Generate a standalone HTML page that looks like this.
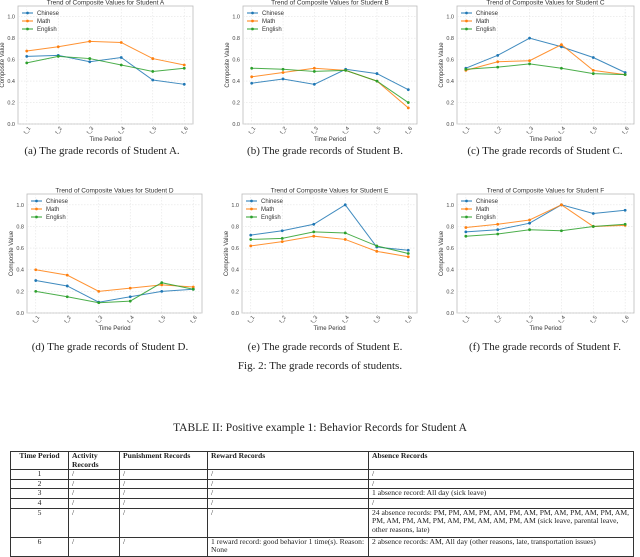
<!DOCTYPE html>
<html><head><meta charset="utf-8">
<style>
body{margin:0;width:640px;height:556px;background:#fff;position:relative;overflow:hidden;font-family:"Liberation Sans",sans-serif}
.cap{position:absolute;font-family:"Liberation Serif",serif;font-size:11px;color:#222;white-space:nowrap;transform:translateX(-50%)}
table{position:absolute;left:10px;top:451px;width:624px;border-collapse:collapse;font-family:"Liberation Serif",serif;font-size:7.6px;color:#222}
td,th{border:1px solid #333;padding:0 3px;vertical-align:top;line-height:8.6px;text-align:left}
th{font-weight:bold}
td.c{text-align:center}
</style></head><body>
<svg id="charts" width="640" height="360" style="position:absolute;left:0;top:0"></svg>
<div class="cap" style="left:102px;top:145px">(a) The grade records of Student A.</div>
<div class="cap" style="left:325px;top:145px">(b) The grade records of Student B.</div>
<div class="cap" style="left:545px;top:145px">(c) The grade records of Student C.</div>
<div class="cap" style="left:110px;top:341px">(d) The grade records of Student D.</div>
<div class="cap" style="left:325px;top:341px">(e) The grade records of Student E.</div>
<div class="cap" style="left:545px;top:341px">(f) The grade records of Student F.</div>
<div class="cap" style="left:320px;top:360px">Fig. 2: The grade records of students.</div>
<div class="cap" style="left:320px;top:422px;font-size:11.5px">TABLE II: Positive example 1: Behavior Records for Student A</div>
<table>
<tr style="height:18px"><th style="width:51px;text-align:center">Time Period</th><th style="width:44px">Activity Records</th><th style="width:81px">Punishment Records</th><th style="width:154px">Reward Records</th><th>Absence Records</th></tr>
<tr style="height:9px"><td class="c">1</td><td>/</td><td>/</td><td>/</td><td>/</td></tr>
<tr style="height:9px"><td class="c">2</td><td>/</td><td>/</td><td>/</td><td>/</td></tr>
<tr style="height:9px"><td class="c">3</td><td>/</td><td>/</td><td>/</td><td>1 absence record: All day (sick leave)</td></tr>
<tr style="height:9px"><td class="c">4</td><td>/</td><td>/</td><td>/</td><td>/</td></tr>
<tr style="height:29px"><td class="c">5</td><td>/</td><td>/</td><td>/</td><td>24 absence records: PM, PM, AM, PM, AM, PM, AM, PM, AM, PM, AM, PM, AM, PM, AM, PM, AM, PM, AM, PM, AM, AM, PM, AM (sick leave, parental leave, other reasons, late)</td></tr>
<tr style="height:19px"><td class="c">6</td><td>/</td><td>/</td><td>1 reward record: good behavior 1 time(s). Reason: None</td><td>2 absence records: AM, All day (other reasons, late, transportation issues)</td></tr>
</table>
<script>
const periods=["t_1","t_2","t_3","t_4","t_5","t_6"];
const yTicks=[0,0.2,0.4,0.6,0.8,1.0];
const seriesNames=["Chinese","Math","English"];
const studentA_chinese=[0.63,0.64,0.58,0.62,0.41,0.37];
const studentA_math=[0.68,0.72,0.77,0.76,0.61,0.55];
const studentA_english=[0.57,0.63,0.61,0.55,0.49,0.52];
const studentB_chinese=[0.38,0.42,0.37,0.51,0.47,0.32];
const studentB_math=[0.44,0.48,0.52,0.50,0.40,0.15];
const studentB_english=[0.52,0.51,0.49,0.50,0.40,0.20];
const studentC_chinese=[0.52,0.64,0.80,0.72,0.62,0.48];
const studentC_math=[0.50,0.58,0.59,0.74,0.50,0.46];
const studentC_english=[0.51,0.53,0.56,0.52,0.47,0.46];
const studentD_chinese=[0.30,0.25,0.10,0.15,0.20,0.22];
const studentD_math=[0.40,0.35,0.20,0.23,0.26,0.24];
const studentD_english=[0.20,0.15,0.095,0.11,0.28,0.22];
const studentE_chinese=[0.72,0.76,0.82,1.00,0.61,0.58];
const studentE_math=[0.62,0.66,0.71,0.68,0.57,0.52];
const studentE_english=[0.68,0.69,0.75,0.74,0.62,0.55];
const studentF_chinese=[0.75,0.77,0.83,1.00,0.92,0.95];
const studentF_math=[0.79,0.82,0.86,1.00,0.80,0.81];
const studentF_english=[0.71,0.73,0.77,0.76,0.80,0.82];

const colors=["#1f77b4","#ff7f0e","#2ca02c"];
const NS="http://www.w3.org/2000/svg";
const svg=document.getElementById('charts');
function mk(tag,attrs,parent,text){const e=document.createElementNS(NS,tag);for(const k in attrs)e.setAttribute(k,attrs[k]);if(text!==undefined)e.textContent=text;(parent||svg).appendChild(e);return e;}
function chart(id,letter,box,series){
  const [L,T,R,B]=box;const W=R-L,pad=W*0.05;
  const g=mk('g',{});
  
  
  const x=i=>L+pad+i*(W-2*pad)/(periods.length-1);
  const y=v=>B-v/1.1*(B-T);
  mk('rect',{x:L,y:T,width:W,height:B-T,fill:'#fff',stroke:'#bbb','stroke-width':0.8},g);
  yTicks.forEach(t=>{
    mk('line',{x1:L,x2:R,y1:y(t),y2:y(t),stroke:'#e4e4e4','stroke-width':0.6,'stroke-dasharray':'1.5,1.5'},g);
    const lb=mk('text',{x:L-3,y:y(t)+2,'font-size':5.5,'text-anchor':'end',fill:'#444'},g,t.toFixed(1));
    
    
  });
  periods.forEach((p,i)=>{
    mk('line',{x1:x(i),x2:x(i),y1:T,y2:B,stroke:'#e4e4e4','stroke-width':0.6,'stroke-dasharray':'1.5,1.5'},g);
    const lb=mk('text',{x:x(i),y:B+8,'font-size':5.5,'text-anchor':'middle',fill:'#444',transform:`rotate(-50 ${x(i)} ${B+6})`},g,p);
    
    
  });
  const tt=mk('text',{x:(L+R)/2,y:T-1.5,'font-size':6.5,'text-anchor':'middle',fill:'#333'},g,'Trend of Composite Values for Student '+letter);
  
  
  const xl=mk('text',{x:(L+R)/2,y:B+17,'font-size':6,'text-anchor':'middle',fill:'#333'},g,'Time Period');
  
  
  const yl=mk('text',{x:L-14,y:(T+B)/2,'font-size':6,'text-anchor':'middle',fill:'#333',transform:`rotate(-90 ${L-14} ${(T+B)/2})`},g,'Composite Value');
  
  
  series.forEach((s,k)=>{
    const pl=mk('polyline',{points:s.map((v,i)=>x(i)+','+y(v)).join(' '),fill:'none',stroke:colors[k],'stroke-width':1,opacity:0.85},g);
    
    
    s.forEach((v,i)=>{
      const c=mk('circle',{cx:x(i),cy:y(v),r:1.4,fill:colors[k]},g);
      
      
    });
    const ly=T+7+k*8;
    mk('line',{x1:L+4,x2:L+15,y1:ly,y2:ly,stroke:colors[k],'stroke-width':1},g);
    mk('circle',{cx:L+9.5,cy:ly,r:1.4,fill:colors[k]},g);
    const lt=mk('text',{x:L+19,y:ly+2,'font-size':6,fill:'#333'},g,seriesNames[k]);
    
    
  });
}
chart('a','A',[18,6,193,124],[studentA_chinese,studentA_math,studentA_english]);
chart('b','B',[243,6,417,124],[studentB_chinese,studentB_math,studentB_english]);
chart('c','C',[457,6,634,124],[studentC_chinese,studentC_math,studentC_english]);
chart('d','D',[27,194,202,313],[studentD_chinese,studentD_math,studentD_english]);
chart('e','E',[242,194,417,313],[studentE_chinese,studentE_math,studentE_english]);
chart('f','F',[457,194,634,313],[studentF_chinese,studentF_math,studentF_english]);
</script>
</body></html>
